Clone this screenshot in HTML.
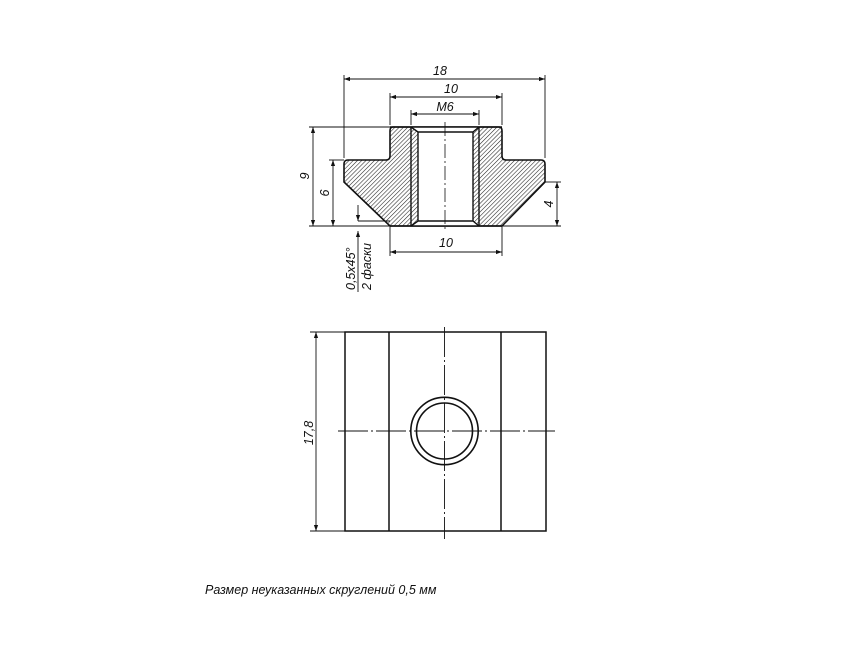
<!DOCTYPE html>
<html><head><meta charset="utf-8"><style>
html,body{margin:0;padding:0;background:#fff;width:866px;height:650px;overflow:hidden}
text{font-family:"Liberation Sans",sans-serif;font-style:italic;fill:#111}
</style></head><body>
<svg width="866" height="650" viewBox="0 0 866 650" xmlns="http://www.w3.org/2000/svg">
<defs>
<pattern id="h" width="3" height="3" patternUnits="userSpaceOnUse" patternTransform="rotate(45)">
<rect width="3" height="3" fill="#fff"/><line x1="0" y1="0" x2="0" y2="3" stroke="#222" stroke-width="1.1"/>
</pattern>
<marker id="a" viewBox="0 0 10 10" refX="10" refY="5" markerWidth="9" markerHeight="6" orient="auto-start-reverse" markerUnits="userSpaceOnUse"><path d="M0,1.5 L10,5 L0,8.5 z" fill="#111"/></marker>
</defs>
<g stroke="#111" fill="none">
<path d="M393,127 L499,127 Q502,127 502,131 L502,156 Q502,160 506,160 L541,160 Q545,160 545,164 L545,182 L502,226 L390,226 L344,182 L344,164 Q344,160 348,160 L386,160 Q390,160 390,156 L390,131 Q390,127 393,127 Z" fill="url(#h)" stroke-width="1.6"/>
<path d="M411,127 L479,127 L473,132 L473,221 L479,226 L411,226 L418,221 L418,132 Z" fill="#fff" stroke="none"/>
<path d="M411,127 L411,226 M479,127 L479,226 M418,132 L418,221 M473,132 L473,221 M418,132 L473,132 M418,221 L473,221 M411,127 L418,132 M479,127 L473,132 M411,226 L418,221 M479,226 L473,221" stroke-width="1.4"/>
<line x1="390" y1="127" x2="502" y2="127" stroke-width="1.6"/>
<line x1="390" y1="226" x2="502" y2="226" stroke-width="1.6"/>
<line x1="445" y1="122" x2="445" y2="230" stroke-width="0.8" stroke-dasharray="14,3,2,3"/>
<g stroke-width="0.9">
<line x1="344" y1="75" x2="344" y2="158"/><line x1="545" y1="75" x2="545" y2="158"/>
<line x1="344" y1="79" x2="545" y2="79" marker-start="url(#a)" marker-end="url(#a)"/>
<line x1="390" y1="93" x2="390" y2="125"/><line x1="502" y1="93" x2="502" y2="125"/>
<line x1="390" y1="97" x2="502" y2="97" marker-start="url(#a)" marker-end="url(#a)"/>
<line x1="411" y1="110" x2="411" y2="125"/><line x1="479" y1="110" x2="479" y2="125"/>
<line x1="411" y1="114" x2="479" y2="114" marker-start="url(#a)" marker-end="url(#a)"/>
<line x1="309" y1="127" x2="390" y2="127"/><line x1="309" y1="226" x2="390" y2="226"/>
<line x1="313" y1="127" x2="313" y2="226" marker-start="url(#a)" marker-end="url(#a)"/>
<line x1="329" y1="160" x2="344" y2="160"/>
<line x1="333" y1="160" x2="333" y2="226" marker-start="url(#a)" marker-end="url(#a)"/>
<line x1="545" y1="182" x2="561" y2="182"/><line x1="502" y1="226" x2="561" y2="226"/>
<line x1="557" y1="182" x2="557" y2="226" marker-start="url(#a)" marker-end="url(#a)"/>
<line x1="390" y1="226" x2="390" y2="256"/><line x1="502" y1="226" x2="502" y2="256"/>
<line x1="390" y1="252" x2="502" y2="252" marker-start="url(#a)" marker-end="url(#a)"/>
<line x1="358" y1="205" x2="358" y2="221" marker-end="url(#a)"/>
<line x1="358" y1="244" x2="358" y2="231" marker-end="url(#a)"/>
<line x1="358" y1="221" x2="390" y2="221"/>
<line x1="358" y1="244" x2="358" y2="292"/>
</g>
<rect x="345" y="332" width="201" height="199" stroke-width="1.5"/>
<line x1="389" y1="332" x2="389" y2="531" stroke-width="1.5"/>
<line x1="501" y1="332" x2="501" y2="531" stroke-width="1.5"/>
<circle cx="444.5" cy="431" r="33.7" stroke-width="1.6"/>
<circle cx="444.5" cy="431" r="28" stroke-width="1.6"/>
<line x1="338" y1="431" x2="555" y2="431" stroke-width="0.9" stroke-dasharray="30,3,2,3"/>
<line x1="444.5" y1="327" x2="444.5" y2="539" stroke-width="0.9" stroke-dasharray="30,3,2,3"/>
<g stroke-width="0.9">
<line x1="310" y1="332" x2="345" y2="332"/><line x1="310" y1="531" x2="345" y2="531"/>
<line x1="316" y1="332" x2="316" y2="531" marker-start="url(#a)" marker-end="url(#a)"/>
</g>
</g>
<g font-size="12.5">
<text x="440" y="75" text-anchor="middle">18</text>
<text x="451" y="93" text-anchor="middle">10</text>
<text x="445" y="111" text-anchor="middle">M6</text>
<text x="446" y="247" text-anchor="middle">10</text>
<text transform="translate(309,176) rotate(-90)" text-anchor="middle">9</text>
<text transform="translate(329,193) rotate(-90)" text-anchor="middle">6</text>
<text transform="translate(553,204) rotate(-90)" text-anchor="middle">4</text>
<text transform="translate(355,290) rotate(-90)">0,5x45°</text>
<text transform="translate(371,290) rotate(-90)">2 фаски</text>
<text transform="translate(313,433) rotate(-90)" text-anchor="middle">17,8</text>
<text x="205" y="594" font-size="12.5">Размер неуказанных скруглений 0,5 мм</text>
</g>
</svg>
</body></html>
